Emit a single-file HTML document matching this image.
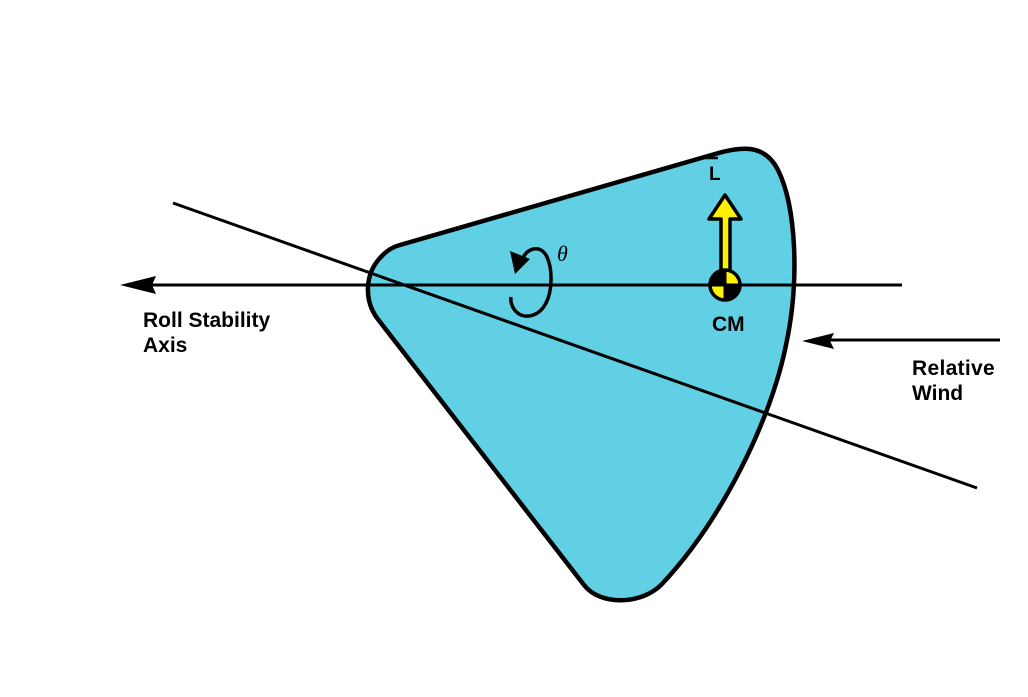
<!DOCTYPE html>
<html>
<head>
<meta charset="utf-8">
<style>
html,body{margin:0;padding:0;background:#fff;}
svg{display:block;}
.lbl{font-family:"Liberation Sans",Arial,sans-serif;font-weight:bold;font-size:21px;fill:#000;}
</style>
</head>
<body>
<svg width="1028" height="697" viewBox="0 0 1028 697" xmlns="http://www.w3.org/2000/svg">
  <rect width="1028" height="697" fill="#fff"/>
  <!-- shape -->
  <path d="M 400,245 L 715,154 C 742,146 765,144 778,170 C 796,206 800,280 786,345 C 771,420 722,520 662,584 C 642,605 600,606 584,585 L 377,318 C 364,300 365,274 380,258 C 386,251 392,247 400,245 Z"
        fill="#61D0E4" stroke="#000" stroke-width="4.5" stroke-linejoin="round"/>
  <!-- diagonal line -->
  <line x1="173" y1="203" x2="977" y2="488" stroke="#000" stroke-width="3"/>
  <!-- roll stability axis -->
  <line x1="140" y1="285" x2="902" y2="285" stroke="#000" stroke-width="3"/>
  <polygon points="120,285 156,276 152,285 156,294" fill="#000"/>
  <!-- relative wind -->
  <line x1="820" y1="340" x2="1000" y2="340" stroke="#000" stroke-width="3"/>
  <polygon points="802,341 834,333 830,341 834,349" fill="#000"/>
  <!-- rotation arrow -->
  <path d="M 523,258 C 527,248 541,244 547,257 C 553,270 552,292 546,303 C 540,315 528,319 519,314 C 513,310 510,303 511,297" fill="none" stroke="#000" stroke-width="3.5"/>
  <polygon points="510,251 515,274 530,259" fill="#000"/>
  <text x="557" y="261" font-family="'Liberation Serif',serif" font-style="italic" font-size="22" fill="#000">θ</text>
  <!-- yellow arrow -->
  <polygon points="725,195 709,219 721,219 721,272 730,272 730,219 741,219" fill="#FFF200" stroke="#000" stroke-width="3.5" stroke-linejoin="round"/>
  <!-- CM symbol -->
  <circle cx="725" cy="285" r="15" fill="#FFF200" stroke="#000" stroke-width="3.5"/>
  <path d="M 725,285 L 725,270 A 15,15 0 0 0 710,285 Z" fill="#000"/>
  <path d="M 725,285 L 725,300 A 15,15 0 0 0 740,285 Z" fill="#000"/>
  <line x1="710" y1="285" x2="740" y2="285" stroke="#000" stroke-width="3"/>
  <line x1="725" y1="270" x2="725" y2="300" stroke="#000" stroke-width="3"/>
  <!-- L vector -->
  <line x1="705" y1="158" x2="718" y2="158" stroke="#000" stroke-width="2.5"/>
  <text x="709" y="180" font-family="'Liberation Sans',sans-serif" font-weight="bold" font-size="19" fill="#000">L</text>
  <!-- labels -->
  <text class="lbl" x="712" y="331">CM</text>
  <text class="lbl" x="143" y="327">Roll Stability</text>
  <text class="lbl" x="143" y="352">Axis</text>
  <text class="lbl" x="912" y="375" letter-spacing="0.3">Relative</text>
  <text class="lbl" x="912" y="400">Wind</text>
</svg>
</body>
</html>
